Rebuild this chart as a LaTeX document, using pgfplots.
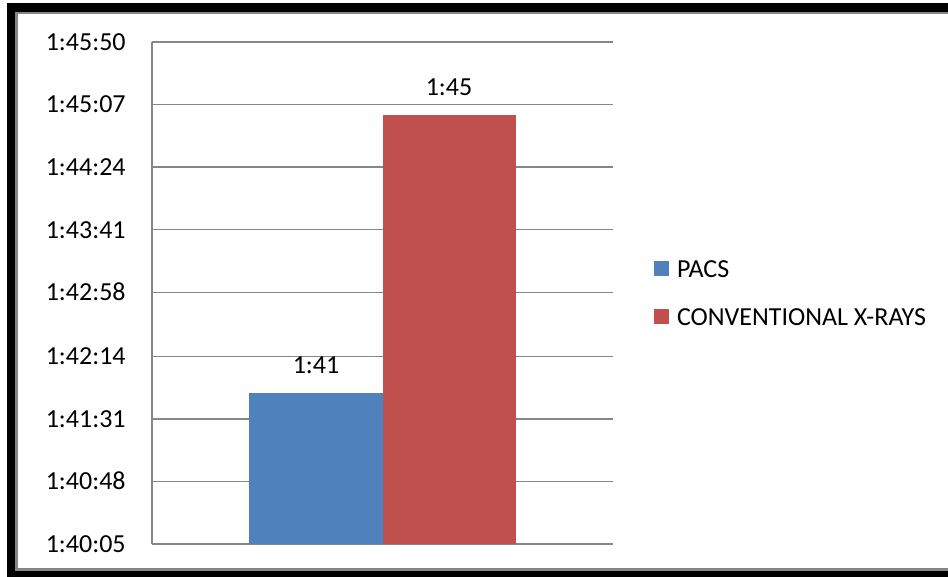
\documentclass[border=0pt]{standalone}
\usepackage{fontspec}
\setmainfont{Carlito}
\usepackage{pgfplots}
\pgfplotsset{compat=1.18}
\definecolor{pacsblue}{HTML}{4F81BD}
\definecolor{xrayred}{HTML}{C0504D}
\definecolor{gridgray}{HTML}{868686}
\newcommand{\chartfont}{\fontsize{13pt}{15pt}\selectfont}

\begin{document}
\begin{tikzpicture}
\useasboundingbox (0,0) rectangle (474pt,288.5pt);
% chart frame: thick black band with a thin grey inner edge
\fill[black] (3.5pt,0pt) rectangle (474pt,287pt);
\fill[gridgray] (7.5pt,3pt) rectangle (474pt,282.5pt);
\fill[white] (9pt,4.5pt) rectangle (474pt,281.5pt);
\begin{axis}[
  at={(76pt,16.5pt)}, anchor=south west,
  scale only axis, width=230.5pt, height=251pt,
  xmin=-1, xmax=1, ymin=6005, ymax=6350,
  axis x line=none, axis y line=left,
  axis line style={-, gridgray, line width=0.75pt},
  ytick={6005,6048,6091,6134,6178,6221,6264,6307,6350},
  yticklabels={1:40:05,1:40:48,1:41:31,1:42:14,1:42:58,1:43:41,1:44:24,1:45:07,1:45:50},
  major tick length=0pt,
  ymajorgrids, grid style={gridgray, line width=0.75pt},
  yticklabel style={font=\chartfont, anchor=east, inner sep=0pt,
    text height=8.4pt, text depth=0pt, xshift=-13pt},
  ybar, bar width=66.5pt,
  point meta=explicit symbolic,
  nodes near coords,
  nodes near coords style={font=\chartfont, anchor=center, inner sep=0pt,
    text height=8.4pt, text depth=0pt, yshift=14pt},
  legend cell align=left,
  legend style={at={(1.089,0.5)}, anchor=west, draw=none, fill=none,
    inner sep=0pt, outer sep=0pt, font=\chartfont,
    nodes={inner sep=0pt, text height=8.4pt, text depth=0pt},
    row sep=15.6pt,
    /tikz/every odd column/.append style={column sep=4pt}},
]
% times in seconds: PACS 1:41:49, conventional X-rays 1:45:00
\addplot[fill=pacsblue, draw=none, bar shift=-33.25pt,
  legend image code/.code={\fill[pacsblue] (0pt,-3.75pt) rectangle (7.5pt,3.75pt);}]
  coordinates {(0,6109) [1:41]};
\addlegendentry{PACS}
\addplot[fill=xrayred, draw=none, bar shift=33.25pt,
  legend image code/.code={\fill[xrayred] (0pt,-3.75pt) rectangle (7.5pt,3.75pt);}]
  coordinates {(0,6300) [1:45]};
\addlegendentry{CONVENTIONAL X-RAYS}
\end{axis}
\end{tikzpicture}
\end{document}
